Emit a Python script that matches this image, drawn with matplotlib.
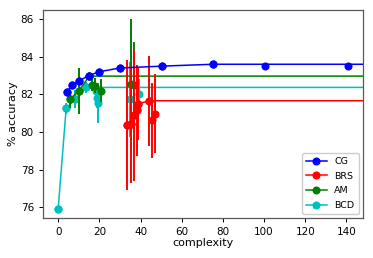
import matplotlib
matplotlib.use('Agg')
import matplotlib.pyplot as plt
import numpy as np

# CG
cg_x = [4.1, 6.8, 9.9, 14.9, 19.9, 29.8, 50.3, 75.2, 100.5, 140.5]
cg_y = [82.1, 82.5, 82.7, 83.0, 83.2, 83.4, 83.5, 83.6, 83.5, 83.5]
cg_err = [0, 0, 0, 0, 0, 0, 0, 0, 0, 0]

# BRS
brs_x = [33.5, 35.5, 37.0, 38.2, 38.9, 44.2, 45.4, 46.8]
brs_y = [80.35, 80.4, 80.9, 81.15, 81.5, 81.66, 80.62, 80.96]
brs_err = [3.45, 3.1, 3.5, 2.4, 1.9, 2.4, 2.0, 2.1]

# AM
am_x = [5.8, 9.9, 15.2, 16.5, 18.1, 20.9, 35.3, 36.9]
am_y = [81.75, 82.18, 82.97, 82.5, 82.45, 82.2, 82.53, 82.5]
am_err = [0.5, 1.2, 0.0, 0.3, 0.4, 0.6, 3.45, 2.3]

# BCD
bcd_x = [0.0, 3.9, 8.4, 13.3, 18.6, 18.9, 19.4, 34.8, 39.2]
bcd_y = [75.9, 81.26, 81.75, 82.37, 82.2, 81.8, 81.55, 81.73, 82.0]
bcd_err = [0.0, 0.3, 0.5, 0.3, 0.3, 0.5, 1.05, 2.0, 0.8]

XMIN, XMAX = -7.4, 147.8
YMIN, YMAX = 75.43, 86.48


def front(x, y):
    # running best over complexity, extended to the right edge
    order = np.argsort(x)
    fx, fy = [], []
    best = -np.inf
    for i in order:
        if y[i] > best:
            best = y[i]
            fx.append(x[i])
            fy.append(y[i])
    fx.append(XMAX)
    fy.append(best)
    return fx, fy


fig = plt.figure(figsize=(3.73, 2.58), dpi=100)
ax = fig.add_axes([0.115, 0.155, 0.857, 0.806])

series = [
    ('CG', 'b', cg_x, cg_y, cg_err, 6),
    ('BRS', 'r', brs_x, brs_y, brs_err, 4),
    ('AM', 'g', am_x, am_y, am_err, 3),
    ('BCD', 'c', bcd_x, bcd_y, bcd_err, 2),
]

handles = []
for name, col, x, y, err, z in series:
    fx, fy = front(x, y)
    ax.errorbar(x, y, yerr=err, fmt='o', color=col, ms=4.8, elinewidth=1.4,
                capsize=0, zorder=z)
    h, = ax.plot(fx, fy, '-', color=col, lw=1.1, zorder=z, marker='o',
                 ms=4.8, markevery=list(range(len(fx) - 1)), label=name)
    handles.append(h)

ax.set_xlim(XMIN, XMAX)
ax.set_ylim(YMIN, YMAX)
ax.set_xticks([0, 20, 40, 60, 80, 100, 120, 140])
ax.set_yticks([76, 78, 80, 82, 84, 86])
ax.tick_params(labelsize=7.5, width=0.7, length=3)
for s in ax.spines.values():
    s.set_color('0.35')
    s.set_linewidth(0.9)

ax.set_xlabel('complexity', fontsize=8, labelpad=1)
ax.set_ylabel('% accuracy', fontsize=8, labelpad=2)

ax.legend(handles=handles, loc='lower right', fontsize=6.8, handlelength=2.2,
          borderpad=0.45, labelspacing=0.6, framealpha=1, edgecolor='0.8',
          borderaxespad=0.4)

fig.savefig('out.png', dpi=100)
